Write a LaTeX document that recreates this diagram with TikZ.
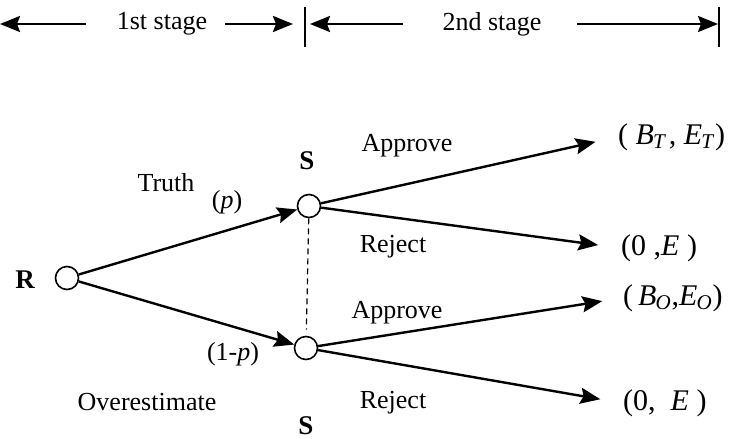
\documentclass[tikz,border=0pt]{standalone}
\usepackage{fontspec}
\setmainfont{Liberation Serif}
\usetikzlibrary{arrows.meta,positioning}
\tikzset{
    >={Stealth[length=10pt,width=8pt,inset=1.5pt]},
    every picture/.style={line width=1.2pt},
    player/.style={circle,draw,line width=0.8pt,minimum size=11.5pt,inner sep=0pt},
    lbl/.style={font=\fontsize{13}{15}\selectfont},
    pname/.style={inner sep=0pt,font=\fontsize{13.5}{15}\selectfont\bfseries},
    payoff/.style={anchor=west,inner sep=0pt,font=\fontsize{15}{18}\selectfont}
}
\newcommand{\iv}[2]{\textit{#1}\textsubscript{\kern-0.5pt\textit{#2}}}

\begin{document}
\begin{tikzpicture}[x=0.5pt,y=-0.5pt]
        \useasboundingbox (0,0) rectangle (731,438);
        % Stages
        \node[lbl] (st1) at (162,24) {1st stage};
        \node[lbl] (st2) at (492,24) {2nd stage};
        \coordinate (b0) at (0,24);
        \coordinate (a1) at (86,24);
        \coordinate (a2) at (225,24);
        \coordinate (b1) at (293,24);
        \coordinate (b2) at (310,24);
        \coordinate (a3) at (403,24);
        \coordinate (a4) at (577,24);
        \coordinate (b3) at (718,24);
        \draw[->] (a1) -- (b0);
        \draw[->] (a2) -- (b1);
        \draw[->] (a3) -- (b2);
        \draw[->] (a4) -- (b3);
        \draw[line width=0.8pt] (305,7) -- (305,47);
        \draw[line width=0.8pt] (719,7) -- (719,47);

        % Players
        \node[player] (R) at (67,278) {};
        \node[player] (Su) at (309,206) {};
        \node[player] (Sl) at (306,348) {};
        \node[pname] at (25,280) {R};
        \node[pname] at (307,161) {S};
        \node[pname] at (306,426) {S};

        % Payoffs
        \node[payoff] (pT) at (617,137) {( \iv{B}{T}\kern1pt, \iv{E}{T})};
        \node[payoff] (pR1) at (620,248) {(0 ,\textit{E} )};
        \node[payoff] (pO) at (622,298) {(\,\iv{B}{O},\iv{E}{O})};
        \node[payoff] (pR2) at (622,403) {(0,\ \ \textit{E}\ )};

        % Moves
        \draw[->] (R) -- (Su);
        \draw[->] (R) -- (Sl);
        \draw[dashed,line width=0.6pt,dash pattern=on 3pt off 2pt,shorten >=3pt] (Su) -- (Sl);
        \draw[->,shorten >=11pt] (Su) -- (pT.west);
        \draw[->,shorten >=11pt] (Su) -- (pR1.west);
        \draw[->,shorten >=10pt] (Sl) -- (pO.west);
        \draw[->,shorten >=11pt] (Sl) -- (pR2.west);

        % Labels
        \node[lbl] at (166,183) {Truth};
        \node[lbl] at (227,202) {(\textit{p})};
        \node[lbl] at (233,354) {(1-\textit{p})};
        \node[lbl] at (147,402) {Overestimate};
        \node[lbl] at (407,146) {Approve};
        \node[lbl] at (393,247) {Reject};
        \node[lbl] at (397,313) {Approve};
        \node[lbl] at (393,403) {Reject};
\end{tikzpicture}
\end{document}
